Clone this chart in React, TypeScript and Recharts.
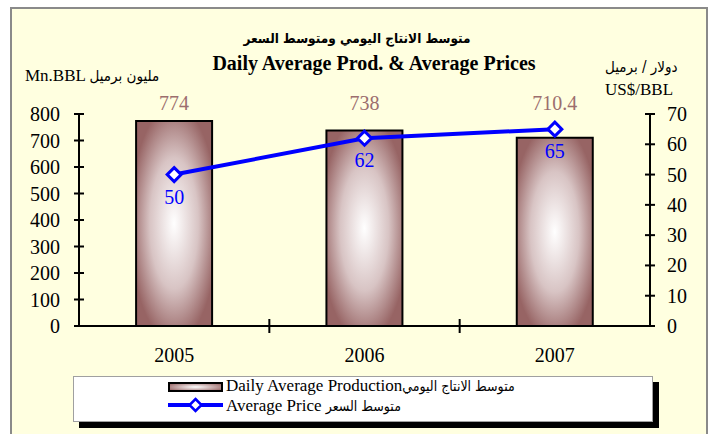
import React from "react";
import { ComposedChart, Bar, Line, XAxis, YAxis, LabelList } from "recharts";

const categories = ["2005", "2006", "2007"];
const production = [774, 738, 710.4];
const prices = [50, 62, 65];
const leftTicks = [0, 100, 200, 300, 400, 500, 600, 700, 800];
const rightTicks = [0, 10, 20, 30, 40, 50, 60, 70];

const data = categories.map((c, i) => ({ year: c, prod: production[i], price: prices[i] }));

const W = 714;
const H = 434;
const M_TOP = 114;
const M_LEFT = 19;
const Y_LEFT_W = 60;
const Y_RIGHT_W = 64;
const PLOT_W = W - M_LEFT - Y_LEFT_W - Y_RIGHT_W;
const BAND = PLOT_W / categories.length;
const TICK_SIZE = 6;
const L_MARGIN = 13;
const R_MARGIN = 11;
const X_MARGIN = 14;
const FONT = "'Liberation Serif', 'Times New Roman', 'DejaVu Sans', serif";
const AR_FONT = "'DejaVu Sans Condensed', 'DejaVu Sans', sans-serif";

const LeftTick = (p: any) => {
  const ax = p.x + TICK_SIZE + L_MARGIN;
  return (
    <g>
      <line x1={ax - 5} x2={ax + 5} y1={p.y} y2={p.y} stroke="#000" strokeWidth={2} />
      <text x={p.x} y={p.y} dy="0.35em" textAnchor="end" fontSize={20} fontFamily={FONT} fill="#000">
        {p.payload.value}
      </text>
    </g>
  );
};

const RightTick = (p: any) => {
  const ax = p.x - TICK_SIZE - R_MARGIN;
  return (
    <g>
      <line x1={ax - 5} x2={ax + 5} y1={p.y} y2={p.y} stroke="#000" strokeWidth={2} />
      <text x={p.x} y={p.y} dy="0.35em" textAnchor="start" fontSize={20} fontFamily={FONT} fill="#000">
        {p.payload.value}
      </text>
    </g>
  );
};

const XTick = (p: any) => {
  const ay = p.y - TICK_SIZE - X_MARGIN;
  const bx = p.x + BAND / 2;
  return (
    <g>
      {p.index < categories.length - 1 && (
        <line x1={bx} x2={bx} y1={ay - 7} y2={ay + 7} stroke="#000" strokeWidth={2} />
      )}
      <text x={p.x} y={p.y} dy="0.8em" textAnchor="middle" fontSize={20} fontFamily={FONT} fill="#000">
        {p.payload.value}
      </text>
    </g>
  );
};

const Diamond = (p: any) => {
  const { cx, cy } = p;
  if (cx == null || cy == null) return null;
  const s = 7;
  return (
    <polygon
      points={`${cx},${cy - s} ${cx + s},${cy} ${cx},${cy + s} ${cx - s},${cy}`}
      fill="#fff"
      stroke="#0000FF"
      strokeWidth={3}
    />
  );
};

// bar value labels sit on a common line above the plot area
const BarValueLabel = (p: any) => {
  const { x, width, value } = p;
  return (
    <text x={x + width / 2} y={M_TOP - 4} textAnchor="middle" fontSize={20} fontFamily={FONT} fill="#9C6E6E">
      {value}
    </text>
  );
};

export default function App() {
  return (
    <div style={{ position: "absolute", left: 0, top: 0, width: W, height: H, background: "#fff", overflow: "hidden", fontFamily: FONT }}>
      <div
        style={{
          position: "absolute",
          left: 10,
          top: 7,
          width: 694,
          height: 440,
          border: "2px solid #8a8a8a",
          background: "#FFFFE0",
        }}
      />
      <svg width={0} height={0} style={{ position: "absolute" }}>
        <defs>
          <radialGradient id="legGrad" cx="0.5" cy="0.5" r="0.6">
            <stop offset="0" stopColor="#ffffff" />
            <stop offset="1" stopColor="#9A6868" />
          </radialGradient>
        </defs>
      </svg>
      <div style={{ position: "absolute", left: 0, top: 0 }}>
        <ComposedChart
          width={W}
          height={H}
          data={data}
          margin={{ top: M_TOP, right: 0, bottom: 78, left: M_LEFT }}
          barCategoryGap="30%"
        >
          <defs>
            <radialGradient id="barGrad" cx="0.5" cy="0.5" r="0.58">
              <stop offset="0" stopColor="#ffffff" />
              <stop offset="0.55" stopColor="#D8C4C4" />
              <stop offset="1" stopColor="#976464" />
            </radialGradient>
          </defs>
          <XAxis
            dataKey="year"
            height={30}
            axisLine={{ stroke: "#000", strokeWidth: 2 }}
            tickLine={false}
            tickSize={TICK_SIZE}
            tickMargin={X_MARGIN}
            tick={<XTick />}
            interval={0}
          />
          <YAxis
            yAxisId="left"
            orientation="left"
            width={Y_LEFT_W}
            domain={[0, 800]}
            ticks={leftTicks}
            axisLine={{ stroke: "#000", strokeWidth: 2 }}
            tickLine={false}
            tickSize={TICK_SIZE}
            tickMargin={L_MARGIN}
            tick={<LeftTick />}
            interval={0}
          />
          <YAxis
            yAxisId="right"
            orientation="right"
            width={Y_RIGHT_W}
            domain={[0, 70]}
            ticks={rightTicks}
            axisLine={{ stroke: "#000", strokeWidth: 2 }}
            tickLine={false}
            tickSize={TICK_SIZE}
            tickMargin={R_MARGIN}
            tick={<RightTick />}
            interval={0}
          />
          <Bar yAxisId="left" dataKey="prod" fill="url(#barGrad)" stroke="#000" strokeWidth={2} isAnimationActive={false}>
            <LabelList dataKey="prod" content={<BarValueLabel />} />
          </Bar>
          <Line
            yAxisId="right"
            dataKey="price"
            stroke="#0000FF"
            strokeWidth={4}
            dot={<Diamond />}
            activeDot={false}
            isAnimationActive={false}
          >
            <LabelList dataKey="price" position="bottom" offset={15} fill="#0000FF" fontSize={20} fontFamily={FONT} />
          </Line>
        </ComposedChart>
      </div>

      <div style={{ position: "absolute", left: 0, width: W, top: 29, textAlign: "center", fontSize: 13.5, lineHeight: "18px", fontWeight: "bold", direction: "rtl", fontFamily: AR_FONT }}>
        متوسط الانتاج اليومي ومتوسط السعر
      </div>
      <div style={{ position: "absolute", left: 17, width: W, top: 51, textAlign: "center", fontSize: 20, lineHeight: "24px", fontWeight: "bold" }}>
        Daily Average Prod. &amp; Average Prices
      </div>
      <div style={{ position: "absolute", left: 25, top: 66, fontSize: 17, whiteSpace: "nowrap" }}>
        Mn.BBL <span style={{ fontFamily: AR_FONT, fontSize: 15 }}>مليون برميل</span>
      </div>
      <div style={{ position: "absolute", left: 605, top: 58, fontSize: 15, whiteSpace: "nowrap", fontFamily: AR_FONT }}>
        دولار / برميل
      </div>
      <div style={{ position: "absolute", left: 605, top: 80, fontSize: 17, whiteSpace: "nowrap" }}>
        US$/BBL
      </div>

      <div
        style={{
          position: "absolute",
          left: 73,
          top: 376,
          width: 578,
          height: 44,
          background: "#fff",
          border: "1px solid #a0a0a0",
          boxShadow: "6px 6px 0 #000",
        }}
      >
        <svg width={60} height={44} style={{ position: "absolute", left: 92, top: 0 }}>
          <rect x={3} y={6} width={53} height={8} fill="url(#legGrad)" stroke="#000" strokeWidth={2} />
          <line x1={2} x2={57} y1={28} y2={28} stroke="#0000FF" strokeWidth={4} />
          <polygon points="29.5,22 35.5,28 29.5,34 23.5,28" fill="#fff" stroke="#0000FF" strokeWidth={2.5} />
        </svg>
        <div style={{ position: "absolute", left: 152, top: 0, fontSize: 17, lineHeight: "18px", whiteSpace: "nowrap" }}>
          Daily Average Production<span style={{ fontFamily: AR_FONT, fontSize: 14 }}>متوسط الانتاج اليومي</span>
        </div>
        <div style={{ position: "absolute", left: 152, top: 20, fontSize: 17, lineHeight: "18px", whiteSpace: "nowrap" }}>
          Average Price <span style={{ fontFamily: AR_FONT, fontSize: 14 }}>متوسط السعر</span>
        </div>
      </div>
    </div>
  );
}
